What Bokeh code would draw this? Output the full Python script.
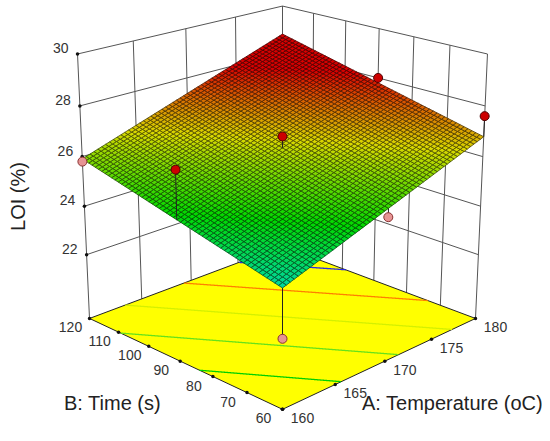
import numpy as np
from bokeh.plotting import figure
from bokeh.models import Range1d, ColumnDataSource
from bokeh.embed import file_html
from bokeh.resources import INLINE
from bokeh.core.properties import value

# ---------------- data ----------------
A_RANGE = (160.0, 180.0)          # A: Temperature (oC)
B_RANGE = (60.0, 120.0)           # B: Time (s)
Z_RANGE = (19.3, 30.0)            # LOI (%) box range
A_TICKS = [160, 165, 170, 175, 180]
B_TICKS = [60, 70, 80, 90, 100, 110, 120]
Z_TICKS = [22, 24, 26, 28, 30]

# fitted linear model in coded units (-1..1)
MODEL_INTERCEPT = 26.35
MODEL_A = 1.45
MODEL_B = 1.01

# design points (visible)
pt_A = [160, 160, 170, 180, 180, 170, 160]
pt_B = [120, 90, 90, 90, 60, 60, 60]
pt_LOI = [25.8, 26.8, 26.8, 28.0, 27.6, 25.0, 22.0]

# floor contour levels and their colours
CONTOUR_LEVELS = [24.7, 25.55, 26.4, 27.25, 28.1]
CONTOUR_COLORS = ["#00d000", "#66e21a", "#d4f000", "#ff8000", "#2a2ae0"]

# colour scale for the surface
CMAP_RANGE = (22.0, 28.0)
CMAP_STOPS = [(0, 0, 255), (0, 255, 255), (0, 255, 0), (255, 255, 0), (255, 0, 0)]

# ---------------- camera ----------------
ELEV = np.radians(20.0)
DIST = 5.687
FOCAL = 1599.0
CX, CY = 282.0, 189.7


def model(A, B):
    ac = 2 * (np.asarray(A, float) - A_RANGE[0]) / (A_RANGE[1] - A_RANGE[0]) - 1
    bc = 2 * (np.asarray(B, float) - B_RANGE[0]) / (B_RANGE[1] - B_RANGE[0]) - 1
    return MODEL_INTERCEPT + MODEL_A * ac + MODEL_B * bc


def proj(A, B, Z):
    A = np.asarray(A, float); B = np.asarray(B, float); Z = np.asarray(Z, float)
    u = (A - A_RANGE[0]) / (A_RANGE[1] - A_RANGE[0])
    v = (B - B_RANGE[0]) / (B_RANGE[1] - B_RANGE[0])
    w = (Z - Z_RANGE[0]) / (Z_RANGE[1] - Z_RANGE[0]) - 0.5
    x = u - 0.5
    y = v - 0.5
    a = (x - y) / np.sqrt(2)
    b = (x + y) / np.sqrt(2)
    depth = b * np.cos(ELEV) - w * np.sin(ELEV) + DIST
    up = b * np.sin(ELEV) + w * np.cos(ELEV)
    return CX + FOCAL * a / depth, CY - FOCAL * up / depth


def cmap(z, scale=1.0):
    t = np.clip((z - CMAP_RANGE[0]) / (CMAP_RANGE[1] - CMAP_RANGE[0]), 0, 1) * (len(CMAP_STOPS) - 1)
    i = int(min(np.floor(t), len(CMAP_STOPS) - 2))
    f = t - i
    c0, c1 = CMAP_STOPS[i], CMAP_STOPS[i + 1]
    rgb = [int(round((c0[k] + (c1[k] - c0[k]) * f) * scale)) for k in range(3)]
    return "#%02x%02x%02x" % tuple(rgb)


# ---------------- figure ----------------
p = figure(width=542, height=433, output_backend="svg", toolbar_location=None,
           x_range=Range1d(0, 542), y_range=Range1d(433, 0),
           x_axis_location=None, y_axis_location=None, min_border=0)
p.grid.visible = False
p.outline_line_color = None
p.background_fill_color = "white"

GRID_COLOR = "#555555"
Zf, Zt = Z_RANGE
A0, A1 = A_RANGE
B0, B1 = B_RANGE

# walls: left wall at B = B1, right wall at A = A1
wx, wy = [], []
for a in A_TICKS:
    xs, ys = proj([a, a], [B1, B1], [Zf, Zt]); wx.append(list(xs)); wy.append(list(ys))
for z in Z_TICKS:
    xs, ys = proj([A0, A1], [B1, B1], [z, z]); wx.append(list(xs)); wy.append(list(ys))
for bt in B_TICKS:
    xs, ys = proj([A1, A1], [bt, bt], [Zf, Zt]); wx.append(list(xs)); wy.append(list(ys))
for z in Z_TICKS:
    xs, ys = proj([A1, A1], [B1, B0], [z, z]); wx.append(list(xs)); wy.append(list(ys))
p.multi_line(wx, wy, line_color=GRID_COLOR, line_width=1)

# floor
fx, fy = proj([A0, A0, A1, A1], [B1, B0, B0, B1], [Zf] * 4)
p.patch(list(fx), list(fy), fill_color="#ffff00", line_color="#222222", line_width=1)

# floor contours
uu = np.linspace(0, 1, 2001)
for lev, col in zip(CONTOUR_LEVELS, CONTOUR_COLORS):
    ac = 2 * uu - 1
    bc = (lev - MODEL_INTERCEPT - MODEL_A * ac) / MODEL_B
    m = (bc >= -1) & (bc <= 1)
    if m.sum() < 2:
        continue
    Aa = A0 + uu[m] * (A1 - A0)
    Bb = B0 + (bc[m] + 1) / 2 * (B1 - B0)
    xs, ys = proj(Aa, Bb, np.full(len(Aa), Zf))
    p.line(xs, ys, line_color=col, line_width=1.3)

# tick dots
tdx, tdy = [], []
xs, ys = proj([A0] * len(B_TICKS), B_TICKS, [Zf] * len(B_TICKS)); tdx += list(xs); tdy += list(ys)
xs, ys = proj(A_TICKS, [B0] * len(A_TICKS), [Zf] * len(A_TICKS)); tdx += list(xs); tdy += list(ys)
xs, ys = proj([A0] * len(Z_TICKS), [B1] * len(Z_TICKS), Z_TICKS); tdx += list(xs); tdy += list(ys)
p.scatter(tdx, tdy, size=3.5, fill_color="#111111", line_color=None)

# stems and point classes
pred = model(pt_A, pt_B)
above = np.array(pt_LOI) > pred
sx0, sy0 = proj(pt_A, pt_B, pt_LOI)
sx1, sy1 = proj(pt_A, pt_B, pred)
below_idx = [i for i in range(len(pt_A)) if not above[i]]
above_idx = [i for i in range(len(pt_A)) if above[i]]
p.multi_line([[sx0[i], sx1[i]] for i in below_idx], [[sy0[i], sy1[i]] for i in below_idx],
             line_color="#222222", line_width=1)

# surface mesh
N = 56
ue = np.linspace(A0, A1, N + 1)
ve = np.linspace(B0, B1, N + 1)
xs_l, ys_l, fc, lc = [], [], [], []
for i in range(N):
    for j in range(N):
        Ac = [ue[i], ue[i + 1], ue[i + 1], ue[i]]
        Bc = [ve[j], ve[j], ve[j + 1], ve[j + 1]]
        Zc = model(Ac, Bc)
        px, py = proj(Ac, Bc, Zc)
        xs_l.append(list(px)); ys_l.append(list(py))
        zc = float(model((ue[i] + ue[i + 1]) / 2, (ve[j] + ve[j + 1]) / 2))
        fc.append(cmap(zc, 0.85))
        lc.append(cmap(zc, 0.30))
src = ColumnDataSource(dict(xs=xs_l, ys=ys_l, fc=fc, lc=lc))
p.patches("xs", "ys", source=src, fill_color="fc", line_color="lc", line_width=0.8)

# stems above surface
p.multi_line([[sx0[i], sx1[i]] for i in above_idx], [[sy0[i], sy1[i]] for i in above_idx],
             line_color="#222222", line_width=1)

# markers
p.scatter([sx0[i] for i in below_idx], [sy0[i] for i in below_idx], size=9,
          fill_color="#e69494", line_color="#8a3030", line_width=1)
p.scatter([sx0[i] for i in above_idx], [sy0[i] for i in above_idx], size=9,
          fill_color="#cc0000", line_color="#500000", line_width=1)

# ---------------- texts ----------------
FONT = value("Liberation Sans")
TXT = "#333333"

zx, zy = proj([A0] * len(Z_TICKS), [B1] * len(Z_TICKS), Z_TICKS)
p.text(list(zx - 9), list(zy - 6), text=[str(z) for z in Z_TICKS], text_font=FONT,
       text_font_size="14px", text_color=TXT, text_align="right", text_baseline="middle")

bx, by = proj([A0] * len(B_TICKS), B_TICKS, [Zf] * len(B_TICKS))
p.text(list(bx - 19), list(by + 9), text=[str(b) for b in B_TICKS], text_font=FONT,
       text_font_size="14px", text_color=TXT, text_align="center", text_baseline="middle")

ax, ay = proj(A_TICKS, [B0] * len(A_TICKS), [Zf] * len(A_TICKS))
p.text(list(ax + 20), list(ay + 9), text=[str(a) for a in A_TICKS], text_font=FONT,
       text_font_size="14px", text_color=TXT, text_align="center", text_baseline="middle")

p.text([112], [402], text=["B: Time (s)"], text_font=FONT, text_font_size="20px",
       text_color="#222222", text_align="center", text_baseline="middle")
p.text([452], [402], text=["A: Temperature (oC)"], text_font=FONT, text_font_size="20px",
       text_color="#222222", text_align="center", text_baseline="middle")
p.text([17], [196], text=["LOI (%)"], text_font=FONT, text_font_size="20px",
       text_color="#222222", text_align="center", text_baseline="middle", angle=np.pi / 2)

open("out.html", "w").write(file_html(p, INLINE))
